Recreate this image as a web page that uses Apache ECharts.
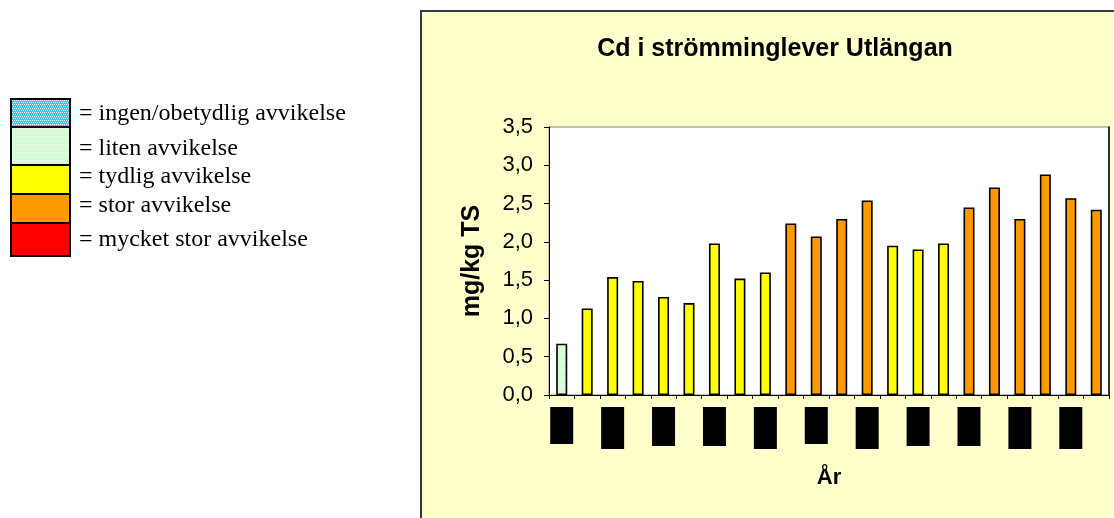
<!DOCTYPE html>
<html>
<head>
<meta charset="utf-8">
<title>Cd i strömminglever Utlängan</title>
<script src="https://cdn.jsdelivr.net/npm/echarts@6/dist/echarts.min.js"></script>
<style>
  html, body { margin: 0; padding: 0; background: #ffffff; }
  #chart { width: 1114px; height: 518px; }
</style>
</head>
<body>
<div id="chart"></div>
<script>
// Sampling years (category axis; labels are masked by black boxes)
const years = ['1988', '1989', '1990', '1991', '1992', '1993', '1994', '1995', '1996', '1997', '1998',
               '1999', '2000', '2001', '2002', '2003', '2004', '2005', '2006', '2007', '2008', '2009'];

// Cd concentration in herring liver, mg/kg TS
const cdValues = [0.67, 1.13, 1.54, 1.49, 1.28, 1.20, 1.98, 1.52, 1.60, 2.24, 2.07,
                  2.30, 2.54, 1.95, 1.90, 1.98, 2.45, 2.71, 2.30, 2.88, 2.57, 2.42];

// Deviation class of each year (index into the class lists below)
const deviationClass = [1, 2, 2, 2, 2, 2, 2, 2, 2, 3, 3,
                        3, 3, 2, 2, 2, 3, 3, 3, 3, 3, 3];

// Deviation classes shown in the key
const classLabels = ['= ingen/obetydlig avvikelse', '= liten avvikelse', '= tydlig avvikelse',
                     '= stor avvikelse', '= mycket stor avvikelse'];

const chartTitle = 'Cd i strömminglever Utlängan';
const yAxisName = 'mg/kg TS';
const xAxisName = 'År';

// ---- styling ----
function dotPattern(base, dot) {
  const c = document.createElement('canvas');
  c.width = 4; c.height = 4;
  const g = c.getContext('2d');
  g.fillStyle = base; g.fillRect(0, 0, 4, 4);
  g.fillStyle = dot;
  g.fillRect(0, 0, 1, 1); g.fillRect(2, 0, 1, 1);
  g.fillRect(1, 2, 1, 1); g.fillRect(3, 2, 1, 1);
  return { image: c, repeat: 'repeat' };
}
const classFills = [
  dotPattern('#33CCFF', '#FFFFFF'),
  dotPattern('#CCFFCC', '#FFFFFF'),
  '#FFFF00',
  '#FF9900',
  '#FF0000'
];

// key box geometry (stacked boxes) and text rows
const keyBoxEdges = [99, 127, 165, 194, 223, 256];
const keyTextY = [114, 149, 177, 206, 240];
// heights of the masking boxes under the x axis
const maskHeights = [37, 42, 39, 39, 42, 37, 42, 39, 39, 42, 42];

const sans = '"Liberation Sans", Arial, sans-serif';
const serif = '"Liberation Serif", "Times New Roman", serif';

const graphics = [
  {
    type: 'rect', z: -10, silent: true,
    shape: { x: 421, y: 11, width: 900, height: 700 },
    style: { fill: '#FFFFCC', stroke: '#3a3a3a', lineWidth: 2 }
  }
];
classLabels.forEach((label, i) => {
  graphics.push({
    type: 'rect', silent: true,
    shape: { x: 11, y: keyBoxEdges[i], width: 59, height: keyBoxEdges[i + 1] - keyBoxEdges[i] },
    style: { fill: classFills[i], stroke: '#000000', lineWidth: 2 }
  });
  graphics.push({
    type: 'text', silent: true,
    x: 79, y: keyTextY[i],
    style: { text: label, font: '24px ' + serif, fill: '#000000', verticalAlign: 'middle' }
  });
});

const rich = {};
maskHeights.forEach((h) => {
  rich['h' + h] = { backgroundColor: '#000000', color: '#000000', width: 23, height: h,
                    fontSize: 10, align: 'center', verticalAlign: 'top' };
});

const chart = echarts.init(document.getElementById('chart'), null, { renderer: 'canvas' });
chart.setOption({
  animation: false,
  backgroundColor: '#ffffff',
  title: {
    text: chartTitle,
    left: 770, top: 32, textAlign: 'center',
    textStyle: { fontFamily: sans, fontWeight: 'bold', fontSize: 25, color: '#000000' }
  },
  graphic: graphics,
  grid: {
    left: 549, top: 127, width: 560, height: 268,
    show: true, backgroundColor: '#ffffff', borderColor: '#808080', borderWidth: 1
  },
  xAxis: {
    type: 'category',
    data: years,
    name: xAxisName,
    nameLocation: 'middle',
    nameGap: 72,
    nameTextStyle: { fontFamily: sans, fontWeight: 'bold', fontSize: 22, color: '#000000' },
    axisLine: { lineStyle: { color: '#000000', width: 1 } },
    axisTick: { show: true, interval: 0, length: 4, lineStyle: { color: '#000000' } },
    axisLabel: {
      interval: 1,
      margin: 12,
      formatter: (v, idx) => '{h' + maskHeights[Math.floor(idx / 2)] + '|' + v + '}',
      rich: rich
    }
  },
  yAxis: [
    {
      type: 'value',
      min: 0, max: 3.5, interval: 0.5,
      name: yAxisName,
      nameLocation: 'middle',
      nameGap: 64,
      nameRotate: 90,
      nameTextStyle: { fontFamily: sans, fontWeight: 'bold', fontSize: 25, color: '#000000' },
      axisLine: { show: true, lineStyle: { color: '#000000', width: 1 } },
      axisTick: { show: true, length: 5, lineStyle: { color: '#000000' } },
      splitLine: { show: false },
      axisLabel: {
        margin: 16,
        fontFamily: sans, fontSize: 22, color: '#000000',
        formatter: (v) => v.toFixed(1).replace('.', ',')
      }
    },
    {
      type: 'value',
      position: 'right',
      min: 0, max: 3.5, interval: 0.5,
      axisLine: { show: true, lineStyle: { color: '#000000', width: 1.5 } },
      axisTick: { show: false },
      axisLabel: { show: false },
      splitLine: { show: false }
    }
  ],
  series: [{
    type: 'bar',
    barWidth: 11,
    data: cdValues.map((v, i) => ({
      value: v,
      itemStyle: { color: classFills[deviationClass[i]] }
    })),
    itemStyle: { borderColor: '#000000', borderWidth: 1.6 }
  }]
});
</script>
</body>
</html>
